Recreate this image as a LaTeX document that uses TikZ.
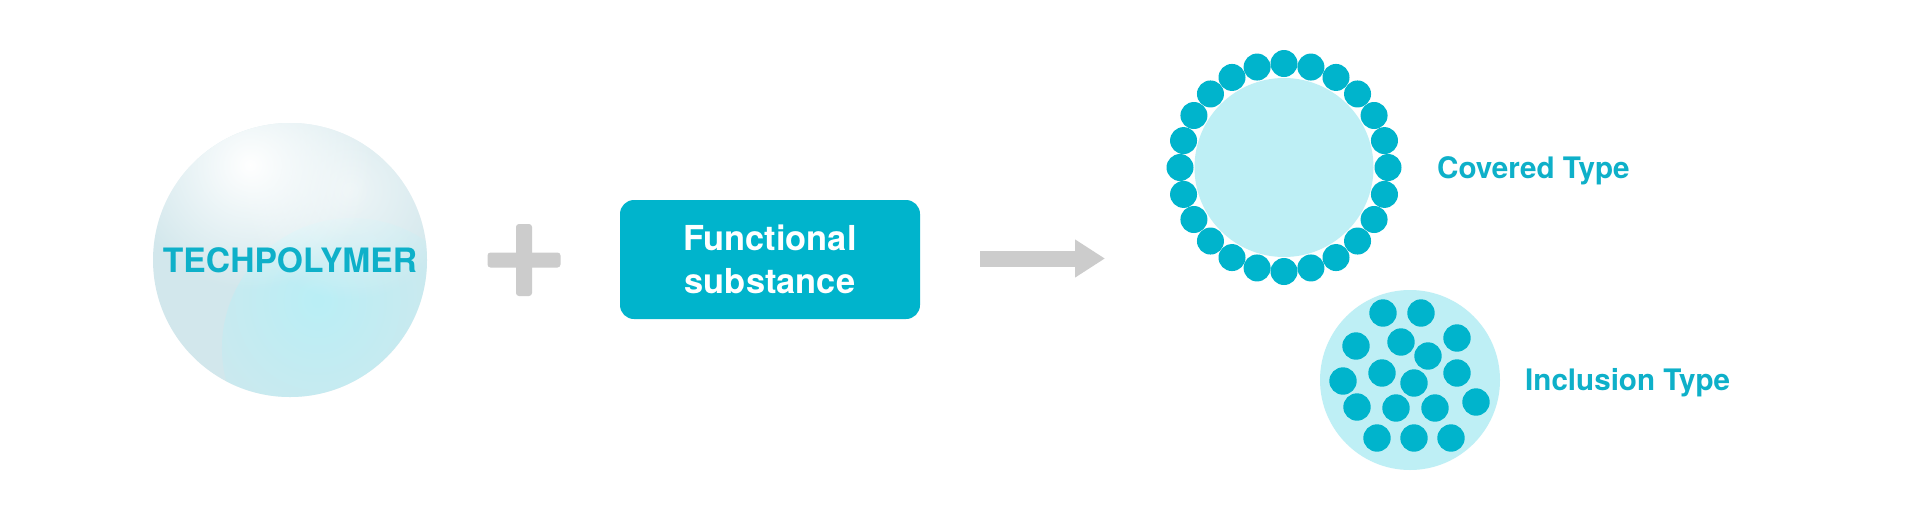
\documentclass[tikz,border=0pt]{standalone}
\usepackage{fontspec}
\setmainfont{TeX Gyre Heros}
\usetikzlibrary{arrows.meta, calc, fadings}

\definecolor{techteal}{RGB}{0,180,204}
\definecolor{labelteal}{RGB}{14,176,201}
\definecolor{palecyan}{RGB}{190,239,245}
\definecolor{signgray}{RGB}{204,204,204}
\definecolor{sphbase}{RGB}{210,231,236}
\definecolor{sphcyan}{RGB}{186,239,246}

\tikzfading[name=glowfade, inner color=transparent!0, outer color=transparent!100]

\begin{document}
\begin{tikzpicture}[
    x=1pt, y=-1pt,
    sphere/.style={circle, fill=sphbase, minimum size=274pt, inner sep=0pt, text=labelteal, font=\bfseries\fontsize{33.6}{40}\selectfont},
    substbox/.style={rectangle, rounded corners=14pt, fill=techteal, minimum width=300pt, minimum height=119pt, align=center, text=white, font=\bfseries\fontsize{34.4}{43}\selectfont},
    core/.style={circle, fill=palecyan, inner sep=0pt},
    bead/.style={fill=techteal},
    typelabel/.style={anchor=base west, inner sep=0pt, text=labelteal, font=\bfseries\fontsize{29.6}{36}\selectfont},
    sign/.style={fill=signgray, rounded corners=3pt},
    fatarrow/.style={draw=signgray, line width=16pt, -{Triangle[length=30pt, width=36pt]}}
]

\fill[white] (0,0) rectangle (1920,520);

\node[sphere, path picture={
    \fill[sphcyan, path fading=glowfade] ([shift={(62,88)}]path picture bounding box.center) circle (130);
    \fill[white!60!sphbase, path fading=glowfade] ([shift={(60,-70)}]path picture bounding box.center) circle (110);
    \fill[white, path fading=glowfade] ([shift={(-40,-95)}]path picture bounding box.center) circle (125);
  }] (poly) at (290,260) {TECHPOLYMER};

\coordinate (plus) at (524,260);
\fill[sign] ([shift={(-36.5,-7.5)}]plus) rectangle ([shift={(36.5,7.5)}]plus);
\fill[sign] ([shift={(-8,-36)}]plus) rectangle ([shift={(8,36)}]plus);

\node[substbox] (subst) at (770,259.5) {Functional\\substance};

\coordinate (arrowstart) at (980,258.5);
\coordinate (arrowend) at (1105,258.5);
\draw[fatarrow] (arrowstart) -- (arrowend);

\node[core, minimum size=179pt] (covered) at (1284,167.5) {};
\foreach \a in {0,15,...,345}
  \fill[bead] (covered.center) ++(\a:104) circle (13.5);
\node[typelabel] (coveredlabel) at (1437,178) {Covered Type};

\node[core, minimum size=180pt] (inclusion) at (1410,380) {};
\foreach \dx/\dy in {-27/-67, 11/-67, -54/-34, -9/-38, 47/-42, 18/-24, -28/-7, -67/1, 4/3,
                    47/-7, -53/27, -14/28, 25/28, 66/22, -33/58, 4/58, 41/58}
  \fill[bead] ($(inclusion.center)+(\dx,\dy)$) circle (13.7);
\node[typelabel] (inclusionlabel) at (1525,390) {Inclusion Type};

\end{tikzpicture}
\end{document}
